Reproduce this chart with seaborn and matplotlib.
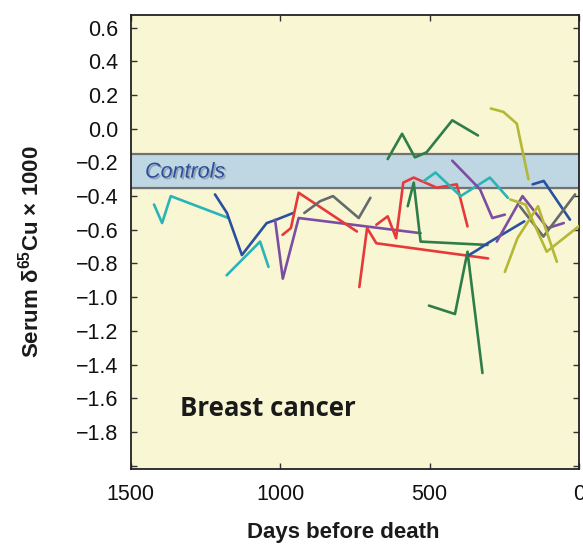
import numpy as np
import pandas as pd
import matplotlib
matplotlib.use("Agg")
import matplotlib.pyplot as plt
import matplotlib.patheffects as pe
import seaborn as sns

# Serum copper isotope ratio per patient, days before death
cyan_a_days = [1422, 1395, 1366, 1173]
cyan_a_vals = [-0.45, -0.56, -0.40, -0.53]
blue_a_days = [1218, 1178, 1128, 1045, 1013, 956]
blue_a_vals = [-0.39, -0.50, -0.75, -0.56, -0.54, -0.50]
cyan_b_days = [1179, 1067, 1039]
cyan_b_vals = [-0.87, -0.67, -0.82]
purple_a_days = [1017, 991, 938, 530]
purple_a_vals = [-0.54, -0.89, -0.53, -0.62]
red_a_days = [992, 964, 938, 743]
red_a_vals = [-0.63, -0.59, -0.38, -0.61]
gray_a_days = [919, 866, 823, 737, 698]
gray_a_vals = [-0.50, -0.43, -0.40, -0.53, -0.41]
red_b_days = [735, 709, 678, 304]
red_b_vals = [-0.94, -0.59, -0.68, -0.77]
red_c_days = [678, 640, 612, 588, 553, 476, 409, 373]
red_c_vals = [-0.57, -0.52, -0.65, -0.32, -0.29, -0.35, -0.33, -0.58]
green_a_days = [573, 553, 530, 306]
green_a_vals = [-0.46, -0.32, -0.67, -0.69]
green_b_days = [502, 415, 373, 323]
green_b_vals = [-1.05, -1.10, -0.73, -1.45]
green_c_days = [640, 592, 549, 510, 424, 338]
green_c_vals = [-0.18, -0.03, -0.17, -0.14, 0.05, -0.04]
cyan_c_days = [519, 480, 396, 298, 238]
cyan_c_vals = [-0.31, -0.26, -0.40, -0.29, -0.41]
purple_b_days = [424, 331, 290, 248]
purple_b_vals = [-0.19, -0.36, -0.53, -0.51]
olive_a_days = [295, 253, 208, 169]
olive_a_vals = [0.12, 0.10, 0.03, -0.30]
blue_b_days = [155, 118, 30]
blue_b_vals = [-0.33, -0.31, -0.54]
blue_c_days = [368, 340, 306, 183]
blue_c_vals = [-0.75, -0.72, -0.68, -0.55]
purple_c_days = [275, 189, 105, 51]
purple_c_vals = [-0.67, -0.40, -0.59, -0.56]
gray_b_days = [198, 119, 13]
gray_b_vals = [-0.46, -0.64, -0.39]
olive_b_days = [248, 206, 137, 74]
olive_b_vals = [-0.85, -0.65, -0.46, -0.79]
olive_c_days = [230, 179, 108, -20]
olive_c_vals = [-0.42, -0.45, -0.73, -0.55]

controls_low, controls_high = -0.35, -0.15

CYAN = "#2bb4b6"
BLUE = "#2a51a0"
PURPLE = "#7c4ea2"
RED = "#e63a3a"
GRAY = "#656a6b"
GREEN = "#2f7d48"
OLIVE = "#b4b834"

series = [
    (cyan_a_days, cyan_a_vals, CYAN),
    (blue_a_days, blue_a_vals, BLUE),
    (cyan_b_days, cyan_b_vals, CYAN),
    (purple_a_days, purple_a_vals, PURPLE),
    (red_a_days, red_a_vals, RED),
    (gray_a_days, gray_a_vals, GRAY),
    (red_b_days, red_b_vals, RED),
    (red_c_days, red_c_vals, RED),
    (green_a_days, green_a_vals, GREEN),
    (green_b_days, green_b_vals, GREEN),
    (green_c_days, green_c_vals, GREEN),
    (cyan_c_days, cyan_c_vals, CYAN),
    (purple_b_days, purple_b_vals, PURPLE),
    (olive_a_days, olive_a_vals, OLIVE),
    (blue_b_days, blue_b_vals, BLUE),
    (blue_c_days, blue_c_vals, BLUE),
    (purple_c_days, purple_c_vals, PURPLE),
    (gray_b_days, gray_b_vals, GRAY),
    (olive_b_days, olive_b_vals, OLIVE),
    (olive_c_days, olive_c_vals, OLIVE),
]

sns.set_theme(style="ticks")
plt.rcParams["font.family"] = ["Liberation Sans", "DejaVu Sans"]
plt.rcParams["mathtext.fontset"] = "custom"
plt.rcParams["mathtext.rm"] = "Liberation Sans"
plt.rcParams["mathtext.bf"] = "Liberation Sans:bold"

fig = plt.figure(figsize=(5.83, 5.46), dpi=100)
ax = fig.add_axes([0.2242, 0.141, 0.9931 - 0.2242, 0.9725 - 0.141])
ax.set_facecolor("#f8f6d3")

ax.axhspan(controls_low, controls_high, color="#bfd6e3", zorder=1)
for yv in (controls_low, controls_high):
    ax.axhline(yv, color="#707274", lw=1.6, zorder=1.5)

for d, v, c in series:
    df = pd.DataFrame({"days": d, "value": v})
    sns.lineplot(data=df, x="days", y="value", color=c, lw=1.9,
                 sort=False, estimator=None, ax=ax, zorder=3)


def fmt(t):
    if abs(t + 2.0) < 1e-9:
        return ""
    s = f"{abs(t):.1f}"
    return ("\u2212" + s) if t < -1e-9 else s


ax.set_xlim(1500, 0)
ax.set_ylim(-2.02, 0.675)
ax.set_xticks([1500, 1000, 500, 0])
ax.set_xticklabels(["1500", "1000", "500", "0"])
yt = np.round(np.arange(-2.0, 0.61, 0.2), 1)
ax.set_yticks(yt)
ax.set_yticklabels([fmt(t) for t in yt])
ax.tick_params(direction="in", length=4, width=1, top=True, right=True,
               labelsize=15.5, color="#333333", labelcolor="#111111")
ax.tick_params(axis="x", pad=11)
ax.tick_params(axis="y", pad=9)
ax.set_xlabel("")
ax.set_ylabel("")
for s in ax.spines.values():
    s.set_linewidth(1.3)
    s.set_color("#222222")

ax.text(0.032, 0.654, "Controls", transform=ax.transAxes, fontsize=15.5,
        style="italic", color="#2b4f9c", va="center", ha="left", zorder=4,
        path_effects=[pe.withSimplePatchShadow(offset=(1.2, -1.2), shadow_rgbFace="#8a97a8", alpha=0.8)])
ax.text(0.11, 0.134, "Breast cancer", transform=ax.transAxes, fontsize=18.5,
        fontweight="bold", color="#1a1a1a", va="center", ha="left",
        family=["Open Sans", "DejaVu Sans"], zorder=4)

fig.text(0.052, 0.54, "Serum δ$^{\\mathregular{65}}$Cu × 1000", rotation=90,
         fontsize=16, fontweight="bold", va="center", ha="center", color="#1a1a1a")
fig.text(0.589, 0.024, "Days before death", fontsize=16, fontweight="bold",
         va="center", ha="center", color="#1a1a1a")

fig.savefig("out.png", dpi=100)
